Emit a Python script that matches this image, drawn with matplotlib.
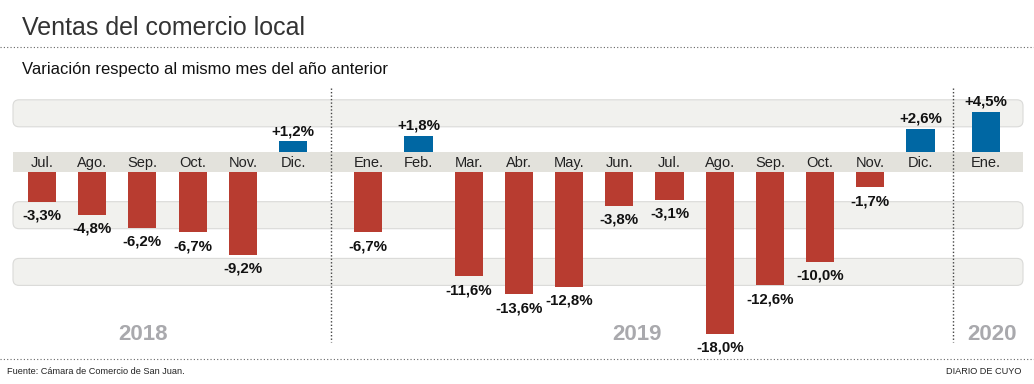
import matplotlib.pyplot as plt
from matplotlib.patches import FancyBboxPatch, Rectangle

# datos
months = ['Jul.', 'Ago.', 'Sep.', 'Oct.', 'Nov.', 'Dic.',
          'Ene.', 'Feb.', 'Mar.', 'Abr.', 'May.', 'Jun.',
          'Jul.', 'Ago.', 'Sep.', 'Oct.', 'Nov.', 'Dic.',
          'Ene.']
years = [2018] * 6 + [2019] * 12 + [2020]
values = [-3.3, -4.8, -6.2, -6.7, -9.2, 1.2,
          -6.7, 1.8, -11.6, -13.6, -12.8, -3.8,
          -3.1, -18.0, -12.6, -10.0, -1.7, 2.6,
          4.5]
year_labels = ['2018', '2019', '2020']

RED = '#b83c30'
BLUE = '#0067a3'
W, H = 1034, 384
XS, X0 = 50.2, 42      # px per bar slot, px of first bar
YS, Y0 = 9.0, 152      # px per %, px of zero line (top of label strip)
GAP = 20 / YS          # height of the month label strip

year_off = {2018: 0.0, 2019: 0.5, 2020: 0.8}
pos = [i + year_off[y] for i, y in enumerate(years)]

plt.rcParams['font.family'] = ['Liberation Sans', 'DejaVu Sans']
fig = plt.figure(figsize=(W / 100, H / 100), dpi=100)
ax = fig.add_axes([0, 0, 1, 1])
ax.set_xlim(-X0 / XS, (W - X0) / XS)
ax.set_ylim(-(H - Y0) / YS, Y0 / YS)
ax.axis('off')

x_left, x_right = (13 - X0) / XS, (1023 - X0) / XS

# background bands
for lo, hi in [(2.8, 5.8), (-GAP - 3.3, -GAP - 6.3), (-GAP - 9.6, -GAP - 12.6)]:
    y0, y1 = min(lo, hi), max(lo, hi)
    ax.add_patch(FancyBboxPatch((x_left, y0), x_right - x_left, y1 - y0,
                                boxstyle='round,pad=0,rounding_size=0.12',
                                mutation_aspect=5.6, facecolor='#f1f1ee',
                                edgecolor='#dadad8', lw=0.8, zorder=1))

# month label strip
ax.add_patch(Rectangle((x_left, -GAP), x_right - x_left, GAP,
                       facecolor='#e3e2dc', edgecolor='none', zorder=2))

# year separators
for xs in [(5 + 6.5) / 2, (17.5 + 18.8) / 2]:
    ax.plot([xs, xs], [(Y0 - 88) / YS, -(342 - Y0) / YS], color='#444',
            lw=1.0, ls=(0, (1, 1.5)), zorder=3)

for x, v, m in zip(pos, values, months):
    ax.text(x, -GAP / 2 - 0.1, m, ha='center', va='center', fontsize=10.5,
            color='#222', zorder=4)
    lab = f'{v:+.1f}%'.replace('.', ',')
    if v >= 0:
        ax.bar(x, v, width=0.56, bottom=0, color=BLUE, zorder=3)
        ax.text(x, v + 0.35, lab, ha='center', va='bottom', fontsize=10.8,
                fontweight='bold', color='#111', zorder=4)
    else:
        ax.bar(x, v, width=0.56, bottom=-GAP, color=RED, zorder=3)
        ax.text(x, v - GAP - 0.75, lab, ha='center', va='top', fontsize=10.8,
                fontweight='bold', color='#111', zorder=4)

# year labels
for lab, xp in zip(year_labels, [143, 637, 992]):
    fig.text(xp / W, 1 - 335 / H, lab, ha='center', va='center', fontsize=16,
             fontweight='bold', color='#a9a9ad')

# titles and footer
fig.text(22 / W, 1 - 35 / H, 'Ventas del comercio local', fontsize=18,
         color='#333', va='baseline')
fig.text(22 / W, 1 - 74 / H, 'Variación respecto al mismo mes del año anterior',
         fontsize=12, color='#111', va='baseline')
for yp in [47, 359]:
    fig.add_artist(plt.Line2D([0, 1], [1 - yp / H] * 2, color='#666', lw=0.8,
                              ls=(0, (1, 2))))
fig.text(7 / W, 1 - 372 / H, 'Fuente: Cámara de Comercio de San Juan.',
         fontsize=6.6, color='#222', va='center')
fig.text(1021 / W, 1 - 372 / H, 'DIARIO DE CUYO', fontsize=6.6, color='#222',
         va='center', ha='right')

fig.savefig('out.png', dpi=100)
